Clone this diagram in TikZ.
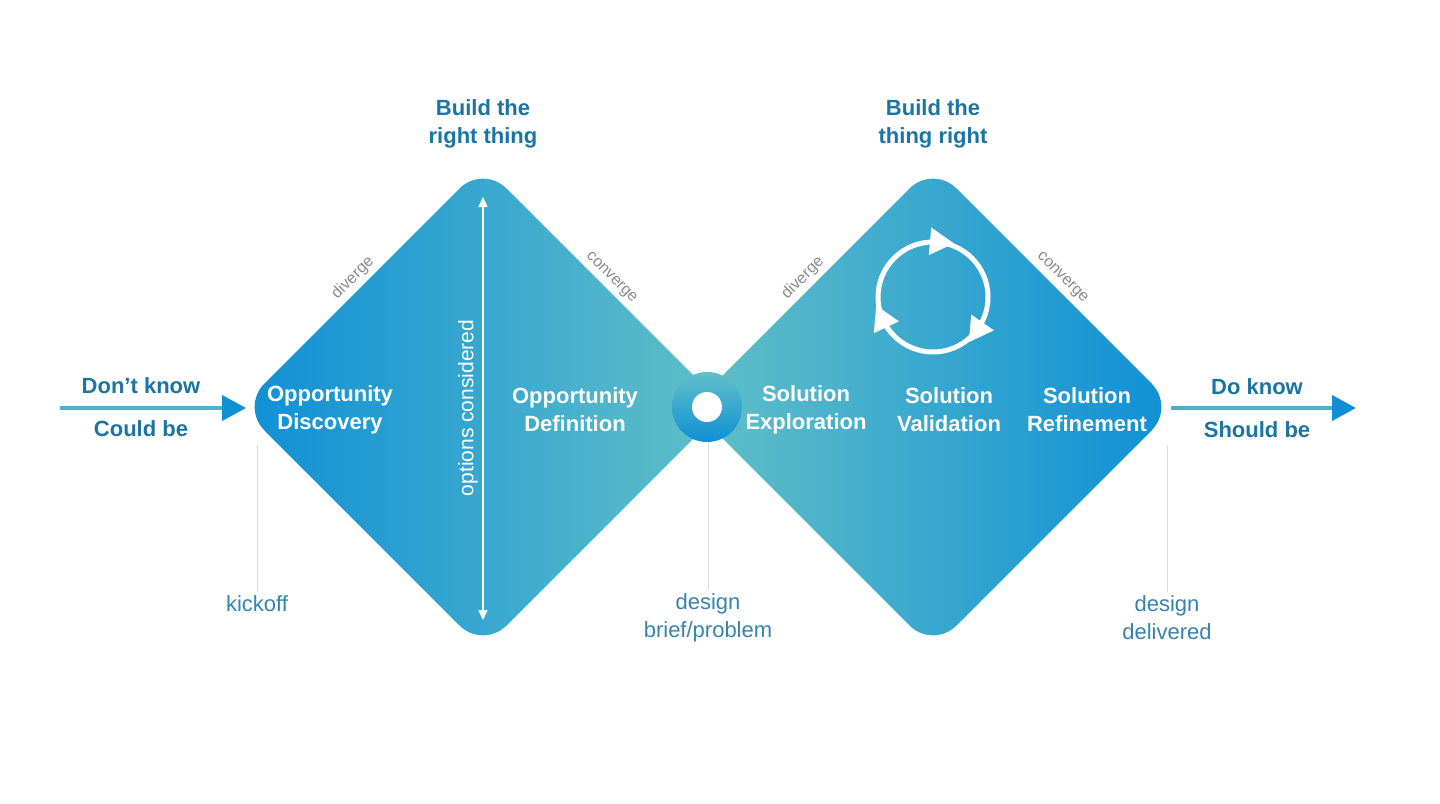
\documentclass[tikz,border=0pt]{standalone}
\usepackage{fontspec}
\setmainfont{Liberation Sans}
\usetikzlibrary{arrows.meta,shapes.geometric}
\definecolor{dblue}{HTML}{0E8FD6}
\definecolor{dteal}{HTML}{62C0C7}
\definecolor{headc}{HTML}{1A74A4}
\definecolor{notec}{HTML}{3583AE}
\definecolor{edgec}{HTML}{8A8A8A}
\definecolor{tickc}{HTML}{DADADA}

\begin{document}
\begin{tikzpicture}[x=1pt, y=-1pt,
    stage/.style = {text=white, font=\fontsize{22}{28}\selectfont\bfseries, align=center},
    head/.style = {text=headc, font=\fontsize{22}{28}\selectfont\bfseries, align=center},
    note/.style = {text=notec, font=\fontsize{22}{28}\selectfont, align=center},
    slope/.style = {text=edgec, font=\fontsize{16}{18}\selectfont, inner sep=0pt},
    tick/.style = {draw=tickc, line width=0.8pt},
    flow/.style = {draw=dteal!70!dblue, line width=4pt, -{Triangle[length=24pt,width=25pt,color=dblue]}},
    tip/.style = {fill=white, isosceles triangle, isosceles triangle apex angle=60, inner sep=0pt, minimum height=24pt}]
    \useasboundingbox (0,0) rectangle (1440,803);
    % the two diamonds
    \shade[left color=dblue, right color=dteal, rounded corners=33pt] (241,407) -- (483,165) -- (725,407) -- (483,649) -- cycle;
    \shade[left color=dteal, right color=dblue, rounded corners=33pt] (691,407) -- (933,165) -- (1175,407) -- (933,649) -- cycle;
    \shade[top color=dteal, bottom color=dblue] (707,407) circle (35pt);
    \fill[white] (707,407) circle (15pt);

    \node[head] (h1) at (483,124) {Build the\\right thing};
    \node[head] (h2) at (933,124) {Build the\\thing right};

    \node[stage] (s1) at (330,410) {Opportunity\\Discovery};
    \node[stage] (s2) at (575,410) {Opportunity\\Definition};
    \node[stage] (s3) at (806,410) {Solution\\Exploration};
    \node[stage] (s4) at (949,410) {Solution\\Validation};
    \node[stage] (s5) at (1087,410) {Solution\\Refinement};

    \node[slope, rotate=45] (d1) at (353,278) {diverge};
    \node[slope, rotate=-45] (c1) at (611,278) {converge};
    \node[slope, rotate=45] (d2) at (803,278) {diverge};
    \node[slope, rotate=-45] (c2) at (1062,278) {converge};

    % options considered
    \coordinate (o1) at (483,197);
    \coordinate (o2) at (483,620);
    \draw[white, line width=1.5pt, {Triangle[length=10pt,width=9pt]}-{Triangle[length=10pt,width=9pt]}] (o1) -- (o2);
    \node[text=white, rotate=90, font=\fontsize{21}{24}\selectfont] (oc) at (468,408) {options considered};

    % iterate
    \node[circle, draw=white, line width=5pt, minimum size=110pt] (cyc) at (933,297) {};
    \node[tip, rotate=-5] (t1) at (938,242) {};
    \node[tip, rotate=-125] (t2) at (978,329) {};
    \node[tip, rotate=115] (t3) at (883,320) {};

    % in and out
    \coordinate (a1) at (60,408);
    \coordinate (a2) at (246,408);
    \coordinate (b1) at (1171,408);
    \coordinate (b2) at (1356,408);
    \draw[flow] (a1) -- (a2);
    \draw[flow] (b1) -- (b2);
    \node[head] (dk) at (141,386) {Don’t know};
    \node[head] (cb) at (141,429) {Could be};
    \node[head] (dok) at (1257,387) {Do know};
    \node[head] (sb) at (1257,430) {Should be};

    % milestones
    \node[note] (m1) at (257,604) {kickoff};
    \node[note] (m2) at (708,618) {design\\brief/problem};
    \node[note] (m3) at (1167,618) {design\\delivered};
    \coordinate (k1) at (257,445);
    \coordinate (k2) at (708,442);
    \coordinate (k3) at (1167,445);
    \draw[tick] (k1) -- (m1);
    \draw[tick] (k2) -- (m2);
    \draw[tick] (k3) -- (m3);
\end{tikzpicture}
\end{document}
